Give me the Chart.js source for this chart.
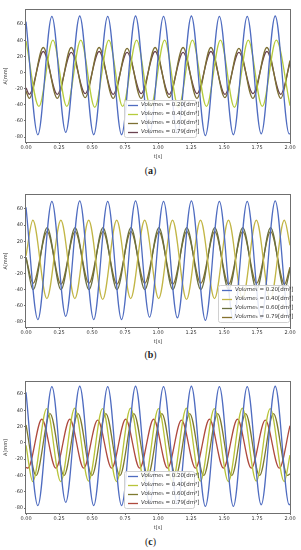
<!DOCTYPE html>
<html>
<head>
<meta charset="utf-8">
<script src="https://cdn.jsdelivr.net/npm/chart.js@4"></script>
<style>
  body { margin: 0; background: #fff; width: 301px; height: 550px; position: relative; overflow: hidden; }
  canvas { position: absolute; left: 0; }
  .cap { position: absolute; left: 0; width: 301px; text-align: center; font-family: "Liberation Serif", serif; font-size: 10px; color: #222; }
  .cap b { font-weight: bold; }
</style>
</head>
<body>
<canvas id="chartA" width="301" height="160" style="top:0px"></canvas>
<div class="cap" style="top:165px">(<b>a</b>)</div>
<canvas id="chartB" width="301" height="160" style="top:185px"></canvas>
<div class="cap" style="top:349px">(<b>b</b>)</div>
<canvas id="chartC" width="301" height="159" style="top:372px"></canvas>
<div class="cap" style="top:536px">(<b>c</b>)</div>
<script>
// Axis ticks
const X_TICKS = [0, 0.25, 0.5, 0.75, 1, 1.25, 1.5, 1.75, 2];
const Y_TICKS = [-80, -60, -40, -20, 0, 20, 40, 60];

// Legend labels
const VOLUMES = ["0.20", "0.40", "0.60", "0.79"];
const SUBS = ["\u2081", "\u2082", "\u2083", "\u2084"];

// Blue curve: turning points (same timing in all panels)
const BLUE_T = [0, 0.090, 0.196, 0.301, 0.407, 0.513, 0.619, 0.724, 0.830, 0.936, 1.042, 1.147, 1.253, 1.359, 1.465, 1.571, 1.676, 1.782, 1.888, 1.994, 2.0];

// Panel (a)
const A_BLUE_V = [63, -77, 69.5, -74, 70, -77, 69.5, -77, 70, -76, 69.5, -75, 70, -78, 69.5, -77, 69.5, -76, 70, -76, -75.5];
const A_GREEN_T = [0, 0.098, 0.204, 0.309, 0.415, 0.521, 0.627, 0.732, 0.838, 0.944, 1.050, 1.155, 1.261, 1.367, 1.473, 1.579, 1.684, 1.790, 1.896, 2.0];
const A_GREEN_V = [39, -42, 40, -42, 40, -43, 40, -42, 40, -42, 40, -43, 40, -42, 40, -43, 40, -42, 40, -41];
const A_DARK_T = [0, 0.025, 0.131, 0.237, 0.343, 0.448, 0.554, 0.660, 0.766, 0.872, 0.978, 1.084, 1.190, 1.295, 1.401, 1.507, 1.613, 1.719, 1.825, 1.930, 2.0];
const A_V3 = [-23, -32, 31, -32, 31, -31, 31, -32, 30, -32, 31, -31, 31, -32, 31, -31, 30, -32, 31, -32, 15];
const A_V4 = [-19, -27, 26, -27, 25, -26, 26, -27, 25, -26, 26, -27, 25, -26, 26, -27, 25, -26, 26, -27, 12];

// Panel (b)
const B_BLUE_V = [62, -77, 69.5, -73, 70, -77, 69.5, -77, 70, -74, 69.5, -75, 70, -78, 69.5, -77, 69.5, -76, 70, -76, -75];
const B_GREEN_T = [0, 0.052, 0.158, 0.264, 0.370, 0.475, 0.581, 0.687, 0.793, 0.899, 1.005, 1.110, 1.216, 1.322, 1.428, 1.534, 1.640, 1.745, 1.851, 1.957, 2.0];
const B_GREEN_V = [2, 46, -51, 46, -51, 46, -52, 46, -51, 46, -51, 46, -52, 46, -51, 46, -51, 46, -52, 46, 15];
const B_DARK_T = [0, 0.054, 0.160, 0.265, 0.372, 0.477, 0.583, 0.689, 0.795, 0.900, 1.007, 1.112, 1.218, 1.324, 1.430, 1.535, 1.642, 1.747, 1.853, 1.959, 2.0];
const B_V3 = [0, -40, 37, -40, 37, -40, 37, -40, 37, -40, 37, -40, 37, -40, 37, -40, 37, -40, 37, -40, -15];
const B_V4 = [0, -32, 32, -33, 32, -32, 32, -33, 32, -32, 32, -33, 32, -32, 32, -33, 32, -32, 32, -33, -12];

// Panel (c)
const C_BLUE_V = [62, -77, 69, -73, 69.5, -77, 69, -77, 69.5, -75, 69, -75, 69.5, -78, 69, -78, 69, -76, 69.5, -76, -75];
const C_GREEN_T = [0, 0.051, 0.157, 0.263, 0.369, 0.474, 0.580, 0.686, 0.792, 0.898, 1.004, 1.109, 1.215, 1.321, 1.427, 1.533, 1.639, 1.744, 1.850, 1.956, 2.0];
const C_GREEN_V = [-3, -47.5, 42, -47.5, 42.5, -47, 42, -47.5, 42.5, -47, 42, -47.5, 42.5, -47, 42, -47.5, 42.5, -47, 42, -47.5, -15];
const C_V3_T = [0, 0.076, 0.182, 0.288, 0.394, 0.499, 0.605, 0.711, 0.817, 0.923, 1.029, 1.134, 1.240, 1.346, 1.452, 1.558, 1.664, 1.769, 1.875, 1.981, 2.0];
const C_V3_V = [22, -40, 36, -40, 36, -40, 36, -40, 36, -40, 36, -40, 36, -40, 36, -40, 36, -40, 36, -40, -38];
const C_V4_T = [0, 0.014, 0.120, 0.226, 0.332, 0.437, 0.543, 0.649, 0.755, 0.861, 0.967, 1.072, 1.178, 1.284, 1.390, 1.496, 1.602, 1.707, 1.813, 1.919, 2.0];
const C_V4_V = [-30, -31, 29, -31, 29, -31, 28, -31, 29, -31, 29, -31, 28, -31, 29, -31, 29, -31, 28, -31, 21];

const FONT = "DejaVu Sans";
const AXIS_COLOR = "#6f6f6f";

function series(times, values, color, idx) {
  return {
    label: "Volume" + SUBS[idx] + " = " + VOLUMES[idx] + "[dm\u00b3]",
    data: times.map((t, i) => ({ x: t, y: values[i] })),
    borderColor: color,
    borderWidth: 1.3,
    pointRadius: 0,
    fill: false,
    cubicInterpolationMode: "monotone",
  };
}

// frame around the plot area (matplotlib spines)
const frame = {
  id: "frame",
  afterDraw(chart) {
    const a = chart.chartArea;
    const ctx = chart.ctx;
    ctx.save();
    ctx.strokeStyle = AXIS_COLOR;
    ctx.lineWidth = 1;
    ctx.strokeRect(Math.round(a.left) - 0.5, Math.round(a.top) - 0.5,
      Math.round(a.right - a.left) + 1, Math.round(a.bottom - a.top) + 1);
    ctx.restore();
  },
};

// legend box drawn inside the axes
const legendBox = {
  id: "legendBox",
  afterDraw(chart, args, opts) {
    const ctx = chart.ctx;
    const x = opts.x, y = opts.y, w = opts.w, h = opts.h, row = opts.row;
    ctx.save();
    ctx.fillStyle = "rgba(255,255,255,0.85)";
    ctx.strokeStyle = "#d0d0d0";
    ctx.lineWidth = 1;
    ctx.beginPath();
    ctx.roundRect(x + 0.5, y + 0.5, w, h, 2);
    ctx.fill();
    ctx.stroke();
    chart.data.datasets.forEach((ds, i) => {
      const cy = y + 5 + i * row;
      ctx.strokeStyle = ds.borderColor;
      ctx.lineWidth = 1.3;
      ctx.beginPath();
      ctx.moveTo(x + 4, cy + 0.5);
      ctx.lineTo(x + 14, cy + 0.5);
      ctx.stroke();
      ctx.fillStyle = "#333";
      ctx.textBaseline = "middle";
      ctx.font = "italic 5.5px " + FONT;
      ctx.fillText("Volume", x + 17, cy);
      const vw = ctx.measureText("Volume").width;
      ctx.font = "5.5px " + FONT;
      ctx.fillText(SUBS[i] + " = " + VOLUMES[i] + "[dm\u00b3]", x + 17 + vw, cy);
    });
    ctx.restore();
  },
};

function makeChart(id, datasets, yMin, yMax, legendPos) {
  return new Chart(document.getElementById(id), {
    type: "line",
    data: { datasets: datasets },
    plugins: [frame, legendBox],
    options: {
      responsive: false,
      animation: false,
      devicePixelRatio: 1,
      layout: { padding: { top: 10, right: 11, left: 0, bottom: 0 } },
      plugins: {
        legend: { display: false },
        tooltip: { enabled: false },
        legendBox: legendPos,
      },
      scales: {
        x: {
          type: "linear",
          min: 0,
          max: 2,
          afterBuildTicks: (s) => { s.ticks = X_TICKS.map((v) => ({ value: v })); },
          afterFit: (s) => { s.height = 18; },
          grid: { display: true, drawOnChartArea: false, tickLength: 2, color: AXIS_COLOR },
          border: { display: false },
          ticks: {
            maxRotation: 0,
            padding: 1,
            color: "#333",
            font: { family: FONT, size: 5 },
            callback: (v) => Number(v).toFixed(2),
          },
          title: { display: true, text: "t[s]", color: "#333", font: { family: FONT, size: 5 }, padding: { top: 1, bottom: 0 } },
        },
        y: {
          min: yMin,
          max: yMax,
          afterBuildTicks: (s) => { s.ticks = Y_TICKS.map((v) => ({ value: v })); },
          afterFit: (s) => { s.width = 26; },
          grid: { display: true, drawOnChartArea: false, tickLength: 2, color: AXIS_COLOR },
          border: { display: false },
          ticks: { padding: 1, color: "#333", font: { family: FONT, size: 5 } },
          title: { display: true, text: "A[mm]", color: "#333", font: { family: FONT, size: 5 }, padding: { top: 3, bottom: 0 } },
        },
      },
    },
  });
}

makeChart("chartA", [
  series(BLUE_T, A_BLUE_V, "#4f6cc0", 0),
  series(A_GREEN_T, A_GREEN_V, "#b6cc3c", 1),
  series(A_DARK_T, A_V3, "#7d7034", 2),
  series(A_DARK_T, A_V4, "#6a4250", 3),
], -86, 77.4, { x: 124, y: 100, w: 72, h: 37, row: 9 });

makeChart("chartB", [
  series(BLUE_T, B_BLUE_V, "#4f6cc0", 0),
  series(B_GREEN_T, B_GREEN_V, "#c2b646", 1),
  series(B_DARK_T, B_V3, "#6a7040", 2),
  series(B_DARK_T, B_V4, "#86722e", 3),
], -86.2, 77.3, { x: 218, y: 100, w: 71, h: 37, row: 9 });

makeChart("chartC", [
  series(BLUE_T, C_BLUE_V, "#4f6cc0", 0),
  series(C_GREEN_T, C_GREEN_V, "#b8c43a", 1),
  series(C_V3_T, C_V3_V, "#7e7a30", 2),
  series(C_V4_T, C_V4_V, "#ae4a3e", 3),
], -86.1, 74.7, { x: 124, y: 99, w: 70, h: 37, row: 9 });
</script>
</body>
</html>
